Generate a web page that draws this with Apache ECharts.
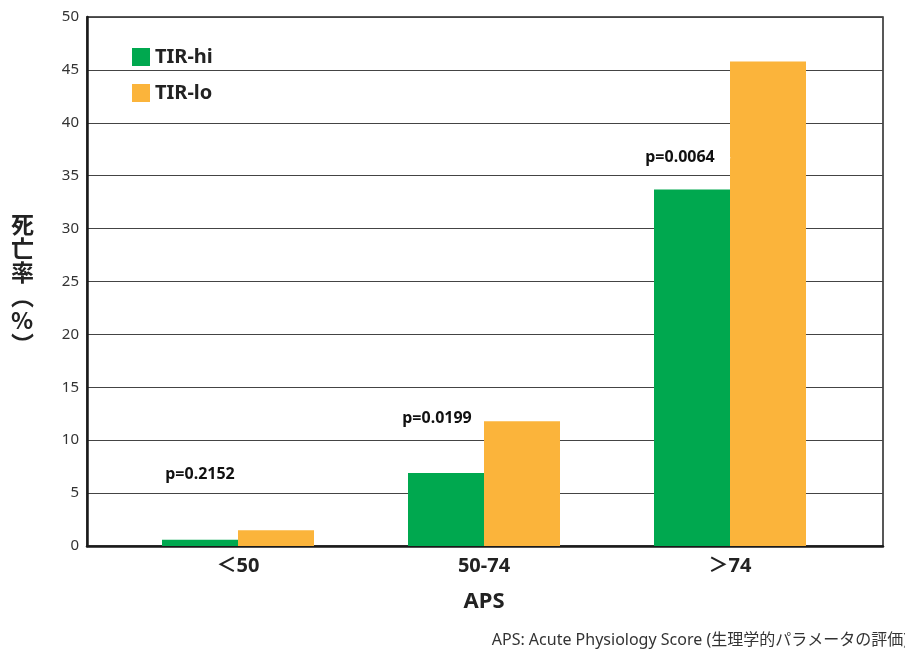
<!DOCTYPE html>
<html><head><meta charset="utf-8">
<script src="https://cdn.jsdelivr.net/npm/echarts@6/dist/echarts.min.js"></script>
<style>html,body{margin:0;padding:0;background:#fff}#c{width:905px;height:650px}</style>
</head><body><div id="c"></div>
<script>
const categories = ['＜50', '50-74', '＞74'];
const seriesNames = ['TIR-hi', 'TIR-lo'];
const tirHi = [0.6, 6.9, 33.7];
const tirLo = [1.5, 11.8, 45.8];
const pLabels = ['p=0.2152', 'p=0.0199', 'p=0.0064'];
const pLabelY = [6.8, 12.1, 36.7];
const pLabelDx = [-38, -47, -50];
const yTicks = { min: 0, max: 50, interval: 5 };

const FONT = '"Noto Sans", "Noto Sans CJK JP", sans-serif';
const chart = echarts.init(document.getElementById('c'));
chart.setOption({
  animation: false,
  backgroundColor: '#fff',
  grid: [
    { left: 87, right: 22, top: 17, bottom: 104, show: true, borderColor: '#222', borderWidth: 1.5, containLabel: false },
    { left: 115, right: 52, top: 17, bottom: 104, containLabel: false }
  ],
  legend: {
    orient: 'vertical', left: 127, top: 42, itemGap: 16, itemWidth: 18, itemHeight: 18,
    data: seriesNames,
    textStyle: { fontFamily: FONT, fontSize: 20, fontWeight: 'bold', color: '#222', padding: [0, 0, 0, 0] },
    icon: 'rect'
  },
  xAxis: [
    { gridIndex: 0, type: 'value', min: 0, max: 1, show: true,
      axisLine: { show: true, onZero: false, lineStyle: { color: '#1a1a1a', width: 2.5 } },
      axisTick: { show: false }, axisLabel: { show: false }, splitLine: { show: false } },
    { gridIndex: 1, type: 'category', data: categories,
      axisLine: { show: false }, axisTick: { show: false },
      axisLabel: { fontFamily: FONT, fontSize: 20, fontWeight: 'bold', color: '#222', margin: 10 },
      name: 'APS', nameLocation: 'middle', nameGap: 45,
      nameTextStyle: { fontFamily: FONT, fontSize: 22, fontWeight: 'bold', color: '#222' } }
  ],
  yAxis: [
    { gridIndex: 0, type: 'value', min: yTicks.min, max: yTicks.max, interval: yTicks.interval,
      axisLine: { show: true, lineStyle: { color: '#1a1a1a', width: 2.5 } },
      axisTick: { show: false },
      axisLabel: { fontFamily: FONT, fontSize: 15, color: '#333', margin: 8 },
      splitLine: { show: true, lineStyle: { color: '#444', width: 1 } } },
    { gridIndex: 1, type: 'value', min: yTicks.min, max: yTicks.max, interval: yTicks.interval, show: false,
      splitLine: { show: false } }
  ],
  series: [
    { name: seriesNames[0], type: 'bar', xAxisIndex: 1, yAxisIndex: 1, data: tirHi,
      barWidth: 76, barGap: '0%', itemStyle: { color: '#00A84F' } },
    { name: seriesNames[1], type: 'bar', xAxisIndex: 1, yAxisIndex: 1, data: tirLo,
      barWidth: 76, barGap: '0%', itemStyle: { color: '#FBB43B' } },
    { type: 'scatter', xAxisIndex: 1, yAxisIndex: 1, symbolSize: 1, silent: true,
      itemStyle: { color: '#fff', opacity: 1 },
      data: pLabels.map((t, i) => ({ value: [i, pLabelY[i]],
        label: { show: true, formatter: t, position: 'inside', offset: [pLabelDx[i], 0],
          fontFamily: FONT, fontSize: 16, fontWeight: 'bold', color: '#111', opacity: 1 } })) }
  ],
  graphic: [
    { type: 'text', left: 11, top: 212,
      style: { text: '死\n亡\n率\n︵\n%\n︶', fontFamily: '"Noto Sans CJK JP", sans-serif', fontSize: 23,
        fontWeight: 'bold', fill: '#222', lineHeight: 24, align: 'center' } },
    { type: 'text', right: -3, top: 632,
      style: { text: 'APS: Acute Physiology Score (生理学的パラメータの評価)', fontFamily: FONT,
        fontSize: 16, fill: '#333' } }
  ]
});
</script></body></html>
